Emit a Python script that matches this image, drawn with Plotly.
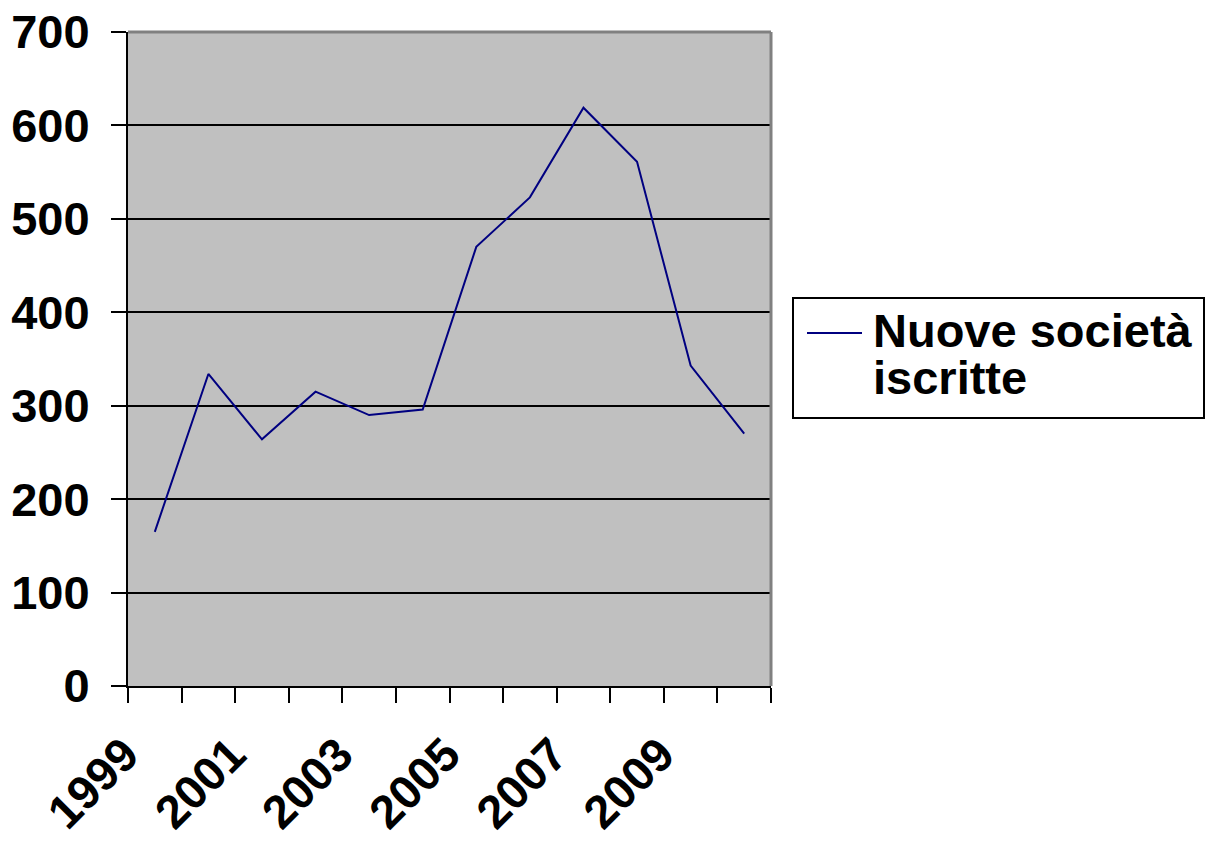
import plotly.graph_objects as go

years = [1999, 2000, 2001, 2002, 2003, 2004, 2005, 2006, 2007, 2008, 2009, 2010]
nuove_societa = [165, 334, 264, 315, 290, 296, 470, 523, 619, 561, 343, 270]
label_years = [1999, 2001, 2003, 2005, 2007, 2009]
y_ticks = [0, 100, 200, 300, 400, 500, 600, 700]
series_name = ["Nuove società", "iscritte"]

W, H = 1214, 841
L, R, T, B = 128, 771, 32, 686
FONT = "Arial, Liberation Sans, sans-serif"


def px_x(x):
    return (x - L) / (R - L)


def px_y(y):
    return (B - y) / (B - T)


fig = go.Figure()
fig.add_trace(
    go.Scatter(
        x=years,
        y=nuove_societa,
        mode="lines",
        line=dict(color="#000080", width=2),
        name=" ".join(series_name),
        showlegend=False,
    )
)

fig.update_layout(
    width=W,
    height=H,
    margin=dict(l=L, r=W - R, t=T, b=H - B),
    paper_bgcolor="white",
    plot_bgcolor="#c0c0c0",
    font=dict(family=FONT, size=47, color="black", weight="bold"),
    xaxis=dict(
        range=[years[0] - 0.5, years[-1] + 0.5],
        tickvals=label_years,
        ticktext=[str(y) for y in label_years],
        tickangle=-45,
        ticks="outside",
        ticklen=15,
        tickcolor="rgba(0,0,0,0)",
        ticklabelshift=-30,
        ticklabelstandoff=5,
        automargin=False,
        showgrid=False,
        zeroline=False,
        showline=True,
        linecolor="black",
        linewidth=2,
        minor=dict(
            tickvals=[y - 0.5 for y in years] + [years[-1] + 0.5],
            ticks="outside",
            ticklen=15,
            tickwidth=2,
            tickcolor="black",
            showgrid=False,
        ),
    ),
    yaxis=dict(
        range=[0, 700],
        tickvals=y_ticks,
        ticks="outside",
        ticklen=15,
        tickwidth=2,
        tickcolor="black",
        ticklabelstandoff=12,
        automargin=False,
        showgrid=True,
        gridcolor="black",
        gridwidth=2,
        zeroline=False,
        showline=True,
        linecolor="black",
        linewidth=2,
    ),
)

# grey border on top and right of the plot area
fig.add_shape(type="line", xref="x domain", yref="y domain", x0=0, x1=1, y0=1, y1=1,
              line=dict(color="#808080", width=3), layer="above")
fig.add_shape(type="line", xref="x domain", yref="y domain", x0=1, x1=1, y0=0, y1=1,
              line=dict(color="#808080", width=3), layer="above")

# legend box
fig.add_shape(type="rect", xref="paper", yref="paper",
              x0=px_x(793), x1=px_x(1204), y0=px_y(418), y1=px_y(298),
              line=dict(color="black", width=2), fillcolor="white")
fig.add_shape(type="line", xref="paper", yref="paper",
              x0=px_x(807), x1=px_x(862), y0=px_y(333), y1=px_y(333),
              line=dict(color="#000080", width=2))
for text, yc in zip(series_name, [330, 377]):
    fig.add_annotation(text=text, xref="paper", yref="paper", x=px_x(871), y=px_y(yc),
                       xanchor="left", yanchor="middle", showarrow=False,
                       font=dict(size=47, color="black", weight="bold"))

fig.write_html("out.html", config={"displayModeBar": False},
               post_script="document.body.style.margin='0';")
